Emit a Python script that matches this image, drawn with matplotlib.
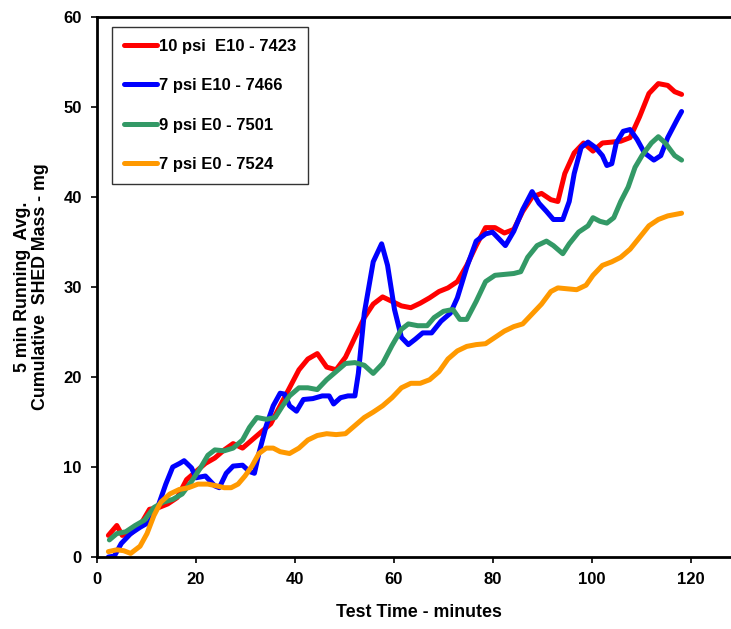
import numpy as np
import matplotlib
matplotlib.use('Agg')
import matplotlib.pyplot as plt

plt.rcParams['font.family'] = ['Liberation Sans', 'DejaVu Sans']
plt.rcParams['font.weight'] = 'bold'

# 10 psi E10 - 7423
red_t = [2.3, 4.0, 5.1, 6.8, 8.7, 10.6, 12.5, 14.3, 16.2, 18.1, 20.0, 21.9, 23.8, 25.7, 27.5, 29.4,
         31.3, 33.2, 35.1, 37.0, 38.9, 40.8, 42.6, 44.5, 46.4, 48.3, 50.2, 52.1, 54.0, 55.8, 57.7,
         59.6, 61.5, 63.4, 65.3, 67.2, 69.1, 70.9, 72.8, 74.7, 76.6, 78.5, 80.4, 82.3, 84.2, 86.0,
         87.9, 89.8, 91.7, 93.1, 94.5, 96.4, 98.3, 100.2, 102.1, 104.0, 105.8, 107.7, 109.6, 111.5,
         113.4, 115.3, 116.7, 118.1]
red_y = [2.4, 3.5, 2.4, 2.6, 3.5, 5.3, 5.5, 5.9, 6.6, 8.6, 9.5, 10.4, 11.0, 11.9, 12.6, 12.1,
         13.0, 13.9, 14.8, 16.8, 18.8, 20.8, 22.0, 22.6, 21.1, 20.8, 22.2, 24.4, 26.6, 28.1, 28.9,
         28.4, 27.9, 27.7, 28.2, 28.8, 29.5, 29.9, 30.6, 32.4, 34.6, 36.6, 36.6, 36.0, 36.4, 38.4,
         40.0, 40.4, 39.7, 39.5, 42.6, 44.9, 46.0, 45.1, 46.0, 46.1, 46.2, 46.6, 48.9, 51.5,
         52.6, 52.4, 51.7, 51.4]

# 7 psi E10 - 7466
blue_t = [2.3, 3.5, 4.9, 6.8, 8.7, 10.6, 12.5, 13.9, 15.3, 16.7, 17.6, 19.1, 20.0, 21.9, 23.8,
          24.7, 26.1, 27.5, 29.4, 30.8, 31.8, 32.7, 34.2, 35.6, 37.0, 37.9, 38.9, 40.3, 41.7,
          43.6, 45.5, 46.9, 47.8, 49.2, 50.7, 52.1, 52.8, 54.0, 55.8, 57.5, 58.7, 60.1, 61.5,
          62.9, 64.3, 65.8, 67.6, 69.5, 71.4, 72.8, 74.7, 76.6, 78.5, 79.9, 81.3, 82.5, 84.2,
          86.0, 87.9, 89.3, 90.8, 92.2, 94.1, 95.4, 96.4, 97.8, 99.2, 100.7, 102.1, 103.0, 104.0,
          104.9, 106.3, 107.7, 109.1, 110.6, 112.5, 113.9, 115.3, 117.2, 118.1]
blue_y = [0.0, 0.1, 1.5, 2.6, 3.3, 3.9, 5.9, 8.1, 10.0, 10.4, 10.7, 9.9, 8.8, 9.0, 7.9,
          7.7, 9.3, 10.1, 10.2, 9.5, 9.3, 11.5, 14.6, 16.8, 18.2, 18.1, 16.8, 16.2, 17.5,
          17.6, 17.9, 17.9, 17.0, 17.7, 17.9, 17.9, 20.4, 27.1, 32.8, 34.8, 32.4, 27.5, 24.4,
          23.6, 24.2, 24.9, 24.9, 26.2, 27.1, 28.8, 32.2, 35.1, 35.9, 36.1, 35.3, 34.6, 36.2,
          38.6, 40.6, 39.3, 38.4, 37.5, 37.5, 39.5, 42.6, 45.5, 46.1, 45.5, 44.6, 43.5, 43.7,
          46.0, 47.3, 47.5, 46.4, 44.9, 44.1, 44.6, 46.6, 48.6, 49.5]

# 9 psi E0 - 7501
green_t = [2.5, 4.0, 5.8, 7.7, 9.6, 11.5, 13.4, 15.3, 17.2, 19.1, 20.9, 22.4, 23.8, 25.7, 27.5,
           29.4, 30.8, 32.3, 34.2, 36.0, 37.5, 38.9, 40.8, 42.6, 44.5, 46.4, 48.3, 50.2, 52.1,
           54.0, 55.8, 57.7, 59.6, 61.5, 62.9, 64.8, 66.7, 68.1, 70.0, 71.9, 73.3, 74.7, 76.6,
           78.5, 80.4, 82.3, 84.2, 85.6, 87.0, 88.9, 90.8, 92.2, 94.1, 95.4, 97.3, 99.2, 100.2,
           101.6, 103.0, 104.4, 105.8, 107.3, 108.7, 110.1, 112.0, 113.4, 114.8, 116.7, 118.1]
green_y = [1.9, 2.6, 2.8, 3.5, 4.1, 5.5, 6.1, 6.4, 7.0, 8.4, 9.9, 11.3, 11.9, 11.8, 12.1,
           13.0, 14.4, 15.5, 15.3, 15.5, 16.8, 17.9, 18.8, 18.8, 18.6, 19.7, 20.6, 21.5, 21.6,
           21.3, 20.4, 21.5, 23.5, 25.3, 25.9, 25.7, 25.7, 26.6, 27.3, 27.5, 26.4, 26.4, 28.4,
           30.6, 31.3, 31.4, 31.5, 31.7, 33.3, 34.6, 35.1, 34.6, 33.7, 34.8, 36.1, 36.8, 37.7,
           37.3, 37.1, 37.7, 39.5, 41.1, 43.3, 44.6, 46.0, 46.7, 46.0, 44.6, 44.1]

# 7 psi E0 - 7524
orange_t = [2.3, 4.0, 5.4, 6.8, 8.7, 10.1, 11.5, 12.9, 14.7, 16.6, 18.5, 20.4, 22.4, 24.2, 25.7,
            27.1, 28.5, 29.9, 31.3, 32.7, 34.2, 35.6, 37.0, 38.9, 40.8, 42.6, 44.5, 46.4, 48.3,
            50.2, 52.1, 54.0, 55.8, 57.7, 59.6, 61.5, 63.4, 65.3, 67.2, 69.1, 70.9, 72.8, 74.7,
            76.6, 78.5, 80.4, 82.3, 84.2, 86.0, 87.9, 89.8, 91.7, 93.1, 95.0, 96.9, 98.8, 100.2,
            102.1, 104.0, 105.8, 107.7, 109.6, 111.5, 113.4, 115.3, 118.1]
orange_y = [0.6, 0.8, 0.7, 0.4, 1.2, 2.6, 4.6, 6.1, 7.0, 7.5, 7.7, 8.1, 8.1, 7.9, 7.7,
            7.7, 8.1, 9.0, 10.1, 11.5, 12.1, 12.1, 11.7, 11.5, 12.1, 13.0, 13.5, 13.7, 13.6,
            13.7, 14.6, 15.5, 16.1, 16.8, 17.7, 18.8, 19.3, 19.3, 19.7, 20.6, 22.0, 22.9, 23.4,
            23.6, 23.7, 24.4, 25.1, 25.6, 25.9, 27.0, 28.1, 29.5, 29.9, 29.8, 29.7, 30.2, 31.3,
            32.4, 32.8, 33.3, 34.2, 35.5, 36.8, 37.5, 37.9, 38.2]

series = [
    (red_t, red_y, '#FF0000', '10 psi  E10 - 7423'),
    (blue_t, blue_y, '#0000FF', '7 psi E10 - 7466'),
    (green_t, green_y, '#339966', '9 psi E0 - 7501'),
    (orange_t, orange_y, '#FF9900', '7 psi E0 - 7524'),
]

fig = plt.figure(figsize=(7.31, 6.29), dpi=100)
ax = fig.add_axes([97 / 731, 72 / 629, 643.5 / 731, 540 / 629])

for t, y, c, lab in series:
    ax.plot(t, y, color=c, lw=3.6, label=lab, solid_capstyle='round', solid_joinstyle='round')

ax.set_xlim(0, 130)
ax.set_ylim(0, 60)
ax.set_xticks(np.arange(0, 121, 20))
ax.set_yticks(np.arange(0, 61, 10))
ax.tick_params(direction='out', length=4, width=1.2, labelsize=12, pad=7)
for lbl in ax.get_xticklabels() + ax.get_yticklabels():
    lbl.set_fontweight('bold')
for s in ax.spines.values():
    s.set_linewidth(2)
    s.set_color('black')

ax.set_xlabel('Test Time - minutes', fontsize=12.8, fontweight='bold', labelpad=12)
ax.set_ylabel('5 min Running  Avg.\nCumulative  SHED Mass - mg', fontsize=12.8,
              fontweight='bold', labelpad=10, linespacing=1.1)

leg = ax.legend(loc='upper left', bbox_to_anchor=(0.0235, 0.982), frameon=True, fancybox=False,
                edgecolor='black', prop={'weight': 'bold', 'size': 12}, handlelength=2.0,
                handletextpad=0.1, labelspacing=1.47, borderpad=0.72, borderaxespad=0)
leg.get_frame().set_linewidth(1.0)

fig.savefig('out.png', dpi=100)
